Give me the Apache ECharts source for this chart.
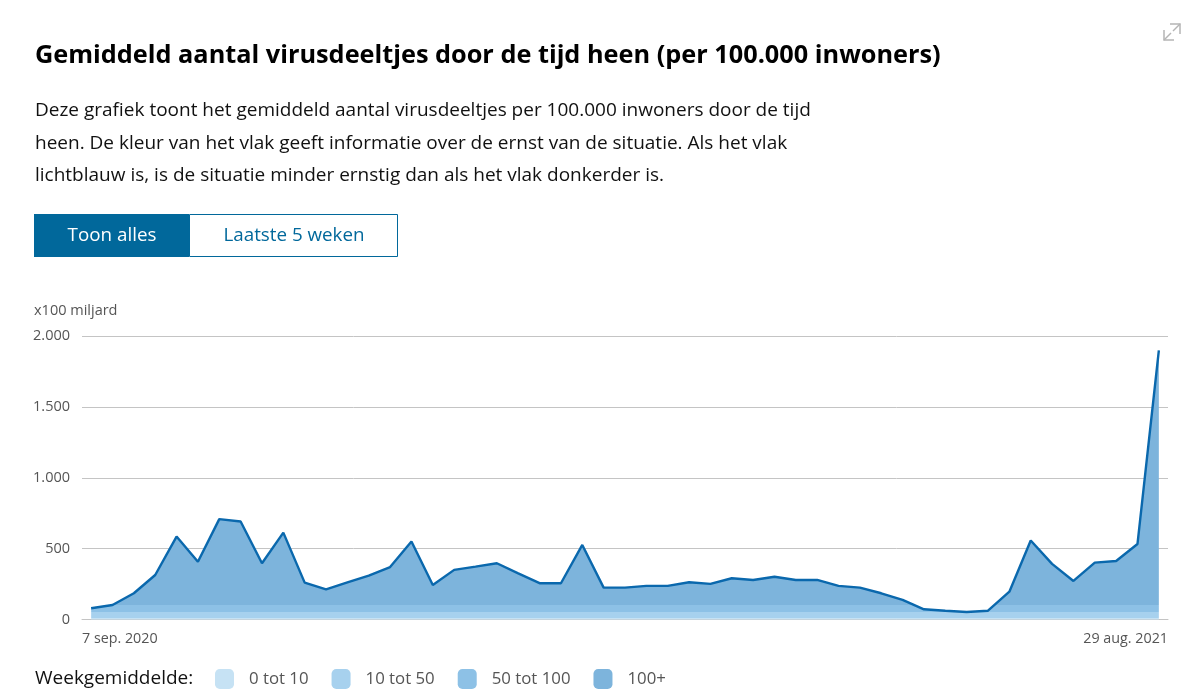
<!DOCTYPE html>
<html>
<head>
<meta charset="utf-8">
<script src="https://cdn.jsdelivr.net/npm/echarts@6/dist/echarts.min.js"></script>
<style>
html,body{margin:0;padding:0;background:#fff;}
#chart{width:1183px;height:695px;}
</style>
</head>
<body>
<div id="chart"></div>
<script>
// ---- data ----
const weekDates = [
  '2020-09-10','2020-09-17','2020-09-24','2020-10-01','2020-10-08','2020-10-15','2020-10-22','2020-10-29',
  '2020-11-05','2020-11-12','2020-11-19','2020-11-26','2020-12-03','2020-12-10','2020-12-17','2020-12-24',
  '2020-12-31','2021-01-07','2021-01-14','2021-01-21','2021-01-28','2021-02-04','2021-02-11','2021-02-18',
  '2021-02-25','2021-03-04','2021-03-11','2021-03-18','2021-03-25','2021-04-01','2021-04-08','2021-04-15',
  '2021-04-22','2021-04-29','2021-05-06','2021-05-13','2021-05-20','2021-05-27','2021-06-03','2021-06-10',
  '2021-06-17','2021-06-24','2021-07-01','2021-07-08','2021-07-15','2021-07-22','2021-07-29','2021-08-05',
  '2021-08-12','2021-08-19','2021-08-26'
];
const weekValues = [
  79, 102, 185, 314, 585, 408, 708, 691, 397, 613, 260, 213, 262, 310, 370, 550,
  244, 350, 373, 397, 326, 256, 256, 526, 225, 225, 237, 237, 263, 251, 291, 279,
  302, 279, 279, 237, 225, 185, 138, 72, 62, 53, 62, 196, 557, 392, 272, 401,
  413, 533, 1898
];
const xRange = ['2020-09-07', '2021-08-29'];
const xTickLabels = ['7 sep. 2020', '29 aug. 2021'];
const yTickLabels = ['0', '500', '1.000', '1.500', '2.000'];
const legendLabels = ['0 tot 10', '10 tot 50', '50 tot 100', '100+'];
const legendBounds = [[0, 10], [10, 50], [50, 100], [100, Infinity]];
const bandColors = ['#c6e2f4', '#a7d1ee', '#8dc1e6', '#7db4dc'];

const title = 'Gemiddeld aantal virusdeeltjes door de tijd heen (per 100.000 inwoners)';
const descLines = [
  'Deze grafiek toont het gemiddeld aantal virusdeeltjes per 100.000 inwoners door de tijd',
  'heen. De kleur van het vlak geeft informatie over de ernst van de situatie. Als het vlak',
  'lichtblauw is, is de situatie minder ernstig dan als het vlak donkerder is.'
];

// ---- build ----
const FONT = '"Open Sans", "Noto Sans", sans-serif';
const t = s => new Date(s).getTime();
const xMin = t(xRange[0]), xMax = t(xRange[1]);
const seriesData = weekDates.map((d, i) => [t(d), weekValues[i]]);

const pieces = legendBounds.map((b, i) => {
  const p = { label: legendLabels[i], color: bandColors[i] };
  if (b[0] > 0) p.gte = b[0];
  if (isFinite(b[1])) p.lt = b[1];
  return p;
});

const BLUE = '#01689b';
const graphics = [
  { type: 'text', x: 35, y: 56, style: { text: title, font: 'bold 25.3px ' + FONT, fill: '#000', verticalAlign: 'middle' } },
];
descLines.forEach((l, i) => {
  graphics.push({ type: 'text', x: 35, y: 111 + i * 32.5, style: { text: l, font: '19px ' + FONT, fill: '#111', verticalAlign: 'middle' } });
});
graphics.push(
  { type: 'rect', shape: { x: 34, y: 214, width: 155, height: 43 }, style: { fill: BLUE } },
  { type: 'text', x: 112, y: 235.5, style: { text: 'Toon alles', font: '18.8px ' + FONT, fill: '#fff', align: 'center', verticalAlign: 'middle' } },
  { type: 'rect', shape: { x: 189.5, y: 214.5, width: 208, height: 42 }, style: { fill: '#fff', stroke: BLUE, lineWidth: 1 } },
  { type: 'text', x: 294, y: 235.5, style: { text: 'Laatste 5 weken', font: '18.8px ' + FONT, fill: BLUE, align: 'center', verticalAlign: 'middle' } },
  { type: 'text', x: 35, y: 679, style: { text: 'Weekgemiddelde:', font: '19px ' + FONT, fill: '#111', verticalAlign: 'middle' } },
  // expand icon
  { type: 'polyline', shape: { points: [[1170, 24], [1180, 24], [1180, 34]] }, style: { stroke: '#b5b5b5', lineWidth: 1.5, fill: null } },
  { type: 'line', shape: { x1: 1180, y1: 24, x2: 1173, y2: 31 }, style: { stroke: '#b5b5b5', lineWidth: 1.5 } },
  { type: 'polyline', shape: { points: [[1164, 30], [1164, 40], [1174, 40]] }, style: { stroke: '#b5b5b5', lineWidth: 1.5, fill: null } },
  { type: 'line', shape: { x1: 1164, y1: 40, x2: 1171, y2: 33 }, style: { stroke: '#b5b5b5', lineWidth: 1.5 } }
);

const chart = echarts.init(document.getElementById('chart'), null, { renderer: 'canvas' });
chart.setOption({
  animation: false,
  backgroundColor: '#fff',
  textStyle: { fontFamily: FONT },
  graphic: graphics,
  grid: { left: 82, right: 15, top: 336, bottom: 75.5, containLabel: false, outerBoundsMode: 'none' },
  xAxis: {
    type: 'value',
    min: xMin, max: xMax, interval: xMax - xMin,
    axisLine: { show: true, lineStyle: { color: '#c4c4c4' } },
    axisTick: { show: false },
    splitLine: { show: false },
    axisLabel: {
      show: true, margin: 12, color: '#555', fontSize: 14.3, fontFamily: FONT,
      showMinLabel: true, showMaxLabel: true,
      alignMinLabel: 'left', alignMaxLabel: 'right',
      formatter: v => (v <= xMin ? xTickLabels[0] : xTickLabels[1])
    }
  },
  yAxis: {
    type: 'value', min: 0, max: 2000, interval: 500,
    name: 'x100 miljard',
    nameLocation: 'end', nameGap: 18,
    nameTextStyle: { color: '#555', fontSize: 14.5, fontFamily: FONT, align: 'left', padding: [0, 0, 0, -48] },
    axisLine: { show: false }, axisTick: { show: false },
    splitLine: { lineStyle: { color: '#c4c4c4', width: 1 } },
    axisLabel: { color: '#555', fontSize: 14.5, margin: 12, fontFamily: FONT, formatter: (v, i) => yTickLabels[i] }
  },
  visualMap: {
    type: 'piecewise', seriesIndex: 0, dimension: 1,
    orient: 'horizontal', left: 215, top: 669, padding: 0,
    itemWidth: 19, itemHeight: 20, itemGap: 23, textGap: 15,
    itemSymbol: 'roundRect',
    textStyle: { color: '#555', fontSize: 16.8, fontFamily: FONT },
    pieces: pieces,
    hoverLink: false
  },
  series: [{
    type: 'line',
    data: seriesData,
    showSymbol: false,
    symbol: 'none',
    lineStyle: { color: '#0a68ad', width: 2.4 },
    areaStyle: { opacity: 1 },
    z: 3
  }]
});
</script>
</body>
</html>
